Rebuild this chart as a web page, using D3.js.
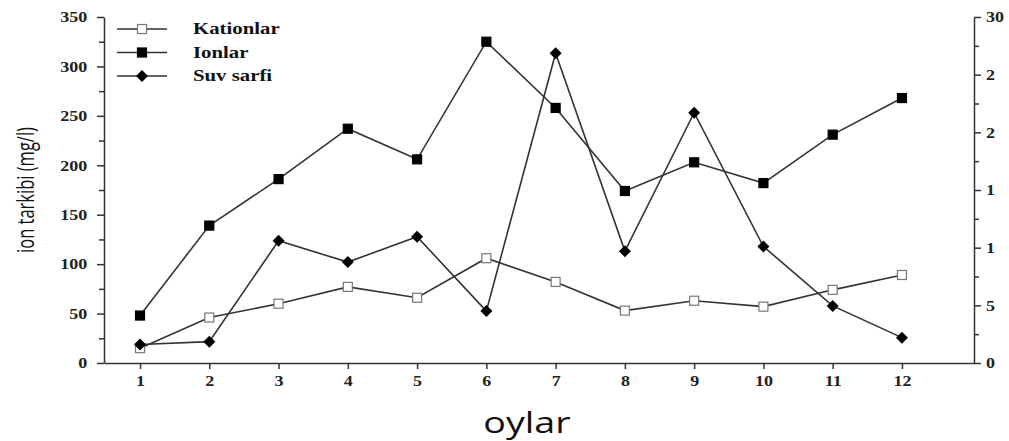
<!DOCTYPE html>
<html lang="uz">
<head>
    <meta charset="UTF-8">
    <title>ion tarkibi</title>
    <script src="https://cdn.jsdelivr.net/npm/d3@7/dist/d3.min.js"></script>
    <style>
        body { margin: 0; background: #fff; }
        .tick text { font-family: "Liberation Serif", "DejaVu Serif", serif; font-weight: bold; font-size: 15px; fill: #222; }
        .domain, .tick line { stroke: #333; stroke-width: 1.5; }
    </style>
</head>
<body>
<div id="chart"></div>
<script>
    // ---- data ----
    const months = [1, 2, 3, 4, 5, 6, 7, 8, 9, 10, 11, 12];
    const kationlar = [15, 46, 60, 77, 66, 106, 82, 53, 63, 57, 74, 89];
    const ionlar = [48, 139, 186, 237, 206, 325, 258, 174, 203, 182, 231, 268];
    const suvSarfi = [1.6, 1.85, 10.6, 8.75, 10.95, 4.5, 26.85, 9.7, 21.7, 10.1, 4.95, 2.2];   // right axis
    const leftTicks = [0, 50, 100, 150, 200, 250, 300, 350];
    const rightTicks = [0, 5, 10, 15, 20, 25, 30];
    const rightTickLabels = ["0", "5", "1", "1", "2", "2", "30"];

    // ---- setup ----
    const width = 1009, height = 441;
    const margin = { top: 17, right: 35, bottom: 78, left: 104 };
    const innerW = width - margin.left - margin.right;
    const innerH = height - margin.top - margin.bottom;
    const stretch = 1.2;   // source picture is a bit wider than tall

    const svg = d3.select("#chart").append("svg")
        .attr("width", width)
        .attr("height", height);
    const g = svg.append("g")
        .attr("transform", `translate(${margin.left},${margin.top})`);

    const x = d3.scaleLinear().domain([0.48, 13.04]).range([0, innerW]);
    const yL = d3.scaleLinear().domain([0, 350]).range([innerH, 0]);
    const yR = d3.scaleLinear().domain([0, 30]).range([innerH, 0]);

    // ---- axes ----
    g.append("g")
        .attr("transform", `translate(0,${innerH})`)
        .call(d3.axisBottom(x).tickValues(months).tickFormat(d3.format("d")).tickSize(6).tickPadding(6).tickSizeOuter(0));

    // minor ticks left
    g.append("g")
        .call(d3.axisLeft(yL).tickValues(d3.range(25, 350, 50)).tickSize(5).tickFormat("").tickSizeOuter(0))
        .select(".domain").remove();
    g.append("g")
        .call(d3.axisLeft(yL).tickValues(leftTicks).tickSize(7).tickPadding(7).tickSizeOuter(0));

    // minor ticks right
    g.append("g")
        .attr("transform", `translate(${innerW},0)`)
        .call(d3.axisRight(yR).tickValues(d3.range(2.5, 30, 5)).tickSize(5).tickFormat("").tickSizeOuter(0))
        .select(".domain").remove();
    g.append("g")
        .attr("transform", `translate(${innerW},0)`)
        .call(d3.axisRight(yR).tickValues(rightTicks).tickSize(7).tickPadding(3).tickSizeOuter(0)
            .tickFormat((d, i) => rightTickLabels[i]));

    g.selectAll(".tick text").attr("transform", `scale(${stretch},1)`);

    // ---- lines ----
    const series = [
        { name: "Kationlar", values: kationlar, y: yL, marker: "open" },
        { name: "Ionlar", values: ionlar, y: yL, marker: "square" },
        { name: "Suv sarfi", values: suvSarfi, y: yR, marker: "diamond" }
    ];

    function drawMarker(sel, type, cx, cy) {
        if (type === "diamond") {
            sel.append("path")
                .attr("d", `M${cx},${cy - 6}L${cx + 6},${cy}L${cx},${cy + 6}L${cx - 6},${cy}Z`)
                .attr("fill", "#000");
        } else {
            sel.append("rect")
                .attr("x", cx - 4.5).attr("y", cy - 4.5)
                .attr("width", 9).attr("height", 9)
                .attr("fill", type === "open" ? "#fff" : "#000")
                .attr("stroke", type === "open" ? "#777" : "#000")
                .attr("stroke-width", 1.2);
        }
    }

    series.forEach(s => {
        const line = d3.line()
            .x((d, i) => x(months[i]))
            .y(d => s.y(d));
        g.append("path")
            .datum(s.values)
            .attr("fill", "none")
            .attr("stroke", "#333")
            .attr("stroke-width", 1.6)
            .attr("d", line);
    });
    series.forEach(s => {
        const mg = g.append("g");
        s.values.forEach((v, i) => drawMarker(mg, s.marker, x(months[i]), s.y(v)));
    });

    // ---- legend ----
    const legend = svg.append("g").attr("transform", "translate(117,29)");
    series.forEach((s, i) => {
        const row = legend.append("g").attr("transform", `translate(0,${i * 23.5})`);
        row.append("line")
            .attr("x1", 0).attr("x2", 50)
            .attr("stroke", "#333").attr("stroke-width", 1.6);
        drawMarker(row, s.marker, 25, 0);
        row.append("text")
            .attr("transform", `translate(76,5) scale(1.3,1)`)
            .attr("font-family", "Liberation Serif, serif")
            .attr("font-weight", "bold")
            .attr("font-size", 16)
            .attr("fill", "#111")
            .text(s.name);
    });

    // ---- titles ----
    svg.append("text")
        .attr("transform", "translate(527,433) scale(1.3,1)")
        .attr("text-anchor", "middle")
        .attr("font-family", "Open Sans, sans-serif")
        .attr("font-size", 29)
        .attr("fill", "#111")
        .text("oylar");

    svg.append("text")
        .attr("transform", "translate(26,190) rotate(-90) scale(1,1.45)")
        .attr("text-anchor", "middle")
        .attr("dy", "0.35em")
        .attr("font-family", "Open Sans, sans-serif")
        .attr("font-size", 16.5)
        .attr("fill", "#111")
        .text("ion tarkibi (mg/l)");
</script>
</body>
</html>
